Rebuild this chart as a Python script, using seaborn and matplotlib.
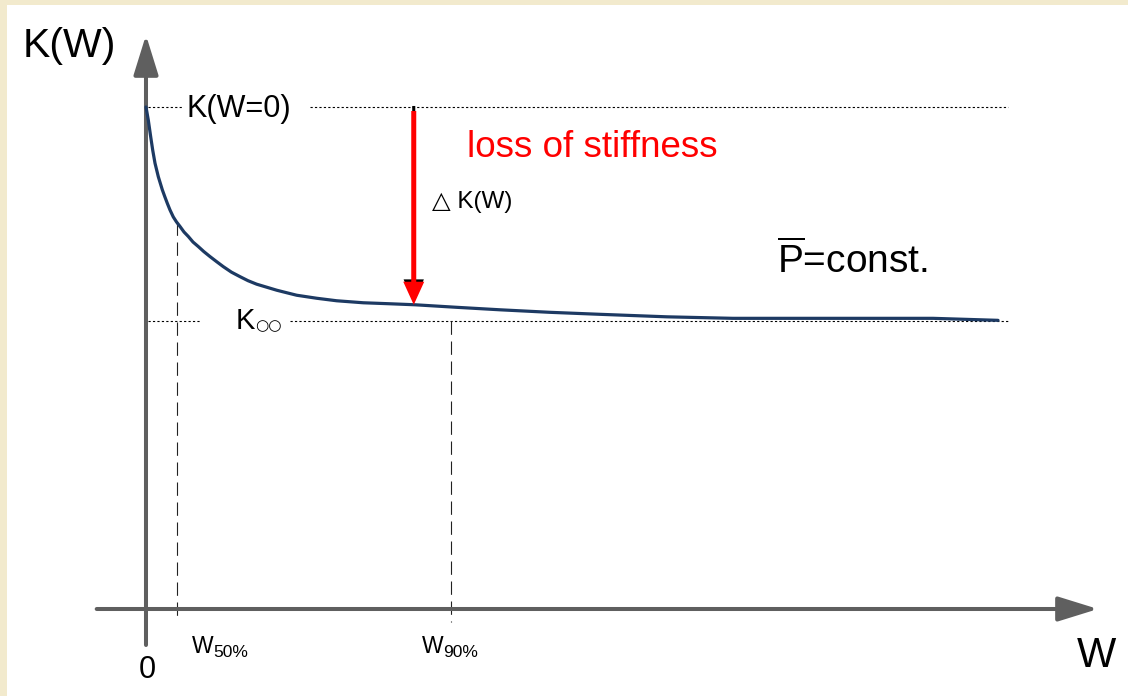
import matplotlib
matplotlib.use("Agg")
import matplotlib.pyplot as plt
import seaborn as sns
import pandas as pd
from matplotlib.patches import Rectangle

# ---------------- data ----------------
W_curve = [0.00, 0.27, 0.55, 0.79, 1.06, 1.45, 1.92, 2.22, 2.51, 2.82, 3.21, 3.59, 4.00,
           4.47, 4.98, 5.53, 6.15, 6.80, 7.53, 8.30, 9.09, 10.05, 11.06, 12.00, 13.02,
           14.20, 15.38, 16.55, 17.73, 20.08, 22.43, 25.56, 28.71, 31.65,
           36.50, 41.65, 47.50, 53.41, 61.29, 69.06, 76.94, 84.82, 92.59, 100.24]
K_curve = [1.000, 0.974, 0.941, 0.914, 0.888, 0.861, 0.835, 0.821, 0.808, 0.795, 0.781,
           0.771, 0.762, 0.751, 0.742, 0.731, 0.722, 0.712, 0.702, 0.692, 0.682, 0.671,
           0.662, 0.654, 0.647, 0.641, 0.635, 0.630, 0.625, 0.619, 0.614, 0.610, 0.608,
           0.606, 0.601, 0.596, 0.591, 0.587, 0.582, 0.579, 0.579, 0.579, 0.579, 0.575]
K_0 = 1.0          # K(W=0)
K_inf = 0.574      # K infinity
W_50 = 3.65        # W 50%
K_at_W50 = 0.770
W_90 = 35.9        # W 90%
W_loss = 31.5      # position of the loss-of-stiffness arrow
K_loss_end = 0.606

y_label = "K(W)"
x_label = "W"
origin_label = "0"
k0_label = "K(W=0)"
loss_label = "loss of stiffness"
delta_label = "\u25b3 K(W)"
p_label = r"$\overline{\mathrm{P}}$=const."

# ---------------- style ----------------
sns.set_style("white")
plt.rcParams["font.family"] = ["Liberation Sans", "DejaVu Sans"]
plt.rcParams["text.color"] = "black"
plt.rcParams["mathtext.fontset"] = "custom"
plt.rcParams["mathtext.rm"] = "Liberation Sans"
plt.rcParams["mathtext.it"] = "Liberation Sans:italic"

gray = "#5f5f5f"
navy = "#1d3a63"
beige = "#F2EACD"

fig = plt.figure(figsize=(11.28, 6.96), dpi=100)
fig.patch.set_facecolor("white")
ax = fig.add_axes([0, 0, 1, 1])

# beige frame (left and top)
fig.add_artist(Rectangle((0, 0), 7 / 1128, 1, transform=fig.transFigure,
                         facecolor=beige, edgecolor="none", zorder=10))
fig.add_artist(Rectangle((0, 1 - 5 / 696), 1, 5 / 696, transform=fig.transFigure,
                         facecolor=beige, edgecolor="none", zorder=10))

# dotted reference lines
dot = dict(color="black", lw=0.8, linestyle=(0, (2, 2)), zorder=1)
ax.plot([0.2, 4.35], [K_0, K_0], **dot)
ax.plot([19.3, 101.4], [K_0, K_0], **dot)
ax.plot([0.2, 6.35], [K_inf, K_inf], **dot)
ax.plot([16.9, 101.4], [K_inf, K_inf], **dot)

# dashed verticals
dash = dict(color="#222222", lw=0.8, linestyle=(0, (12, 6)), zorder=1)
ax.plot([W_50, W_50], [K_at_W50, -0.026], **dash)
ax.plot([W_90, W_90], [K_inf, -0.026], **dash)

# axes arrows
axis_arrow = dict(arrowstyle="-|>,head_length=24.5,head_width=7.6", mutation_scale=1,
                  lw=2.9, color=gray, shrinkA=0, shrinkB=0)
ax.annotate("", xy=(112.0, 0), xytext=(-5.8, 0), arrowprops=axis_arrow, zorder=2)
ax.annotate("", xy=(0, 1.1434), xytext=(0, -0.0717), arrowprops=axis_arrow, zorder=2)

# the curve
df = pd.DataFrame({"W": W_curve, "K": K_curve})
sns.lineplot(data=df, x="W", y="K", ax=ax, color=navy, lw=2.3, sort=False,
             estimator=None, legend=False, zorder=3)
ax.set_xlim(-17.176, 115.53)
ax.set_ylim(-0.1733, 1.2131)
ax.axis("off")

# loss of stiffness arrow (small black underlay + red)
ax.annotate("", xy=(W_loss, K_loss_end + 0.003), xytext=(W_loss, K_0 + 0.002),
            arrowprops=dict(arrowstyle="simple,head_length=17.2,head_width=14.6,tail_width=2.2",
                            mutation_scale=1, fc="black", ec="none", lw=0,
                            shrinkA=0, shrinkB=0), zorder=4)
ax.annotate("", xy=(W_loss, K_loss_end), xytext=(W_loss, K_0 - 0.008),
            arrowprops=dict(arrowstyle="simple,head_length=16.6,head_width=15.1,tail_width=3.6",
                            mutation_scale=1, fc="#ff0000", ec="none", lw=0,
                            shrinkA=0, shrinkB=0), zorder=5)

# texts
ax.text(-14.47, 1.0996, y_label, fontsize=29.5, va="baseline", ha="left")
ax.text(109.5, -0.1155, x_label, fontsize=30, va="baseline", ha="left")
ax.text(0.12, -0.137, origin_label, fontsize=22, va="baseline", ha="center")
ax.text(4.82, 0.980, k0_label, fontsize=22, va="baseline", ha="left")
ax.text(10.59, 0.558, "K", fontsize=21, va="baseline", ha="left")
ax.text(12.82, 0.556, "\u25cb\u25cb", fontsize=11, va="baseline", ha="left",
        family="DejaVu Sans")
ax.text(37.76, 0.900, loss_label, fontsize=26.5, color="#ff0000", va="baseline", ha="left")
ax.text(33.65, 0.799, delta_label, fontsize=17.5, va="baseline", ha="left")
ax.text(74.24, 0.669, p_label, fontsize=28, va="baseline", ha="left")
ax.text(5.41, -0.088, "W", fontsize=16.5, va="baseline", ha="left")
ax.text(7.88, -0.0956, "50%", fontsize=12.5, va="baseline", ha="left")
ax.text(32.47, -0.088, "W", fontsize=16.5, va="baseline", ha="left")
ax.text(34.94, -0.0956, "90%", fontsize=12.5, va="baseline", ha="left")

fig.savefig("out.png", dpi=100, facecolor="white")
